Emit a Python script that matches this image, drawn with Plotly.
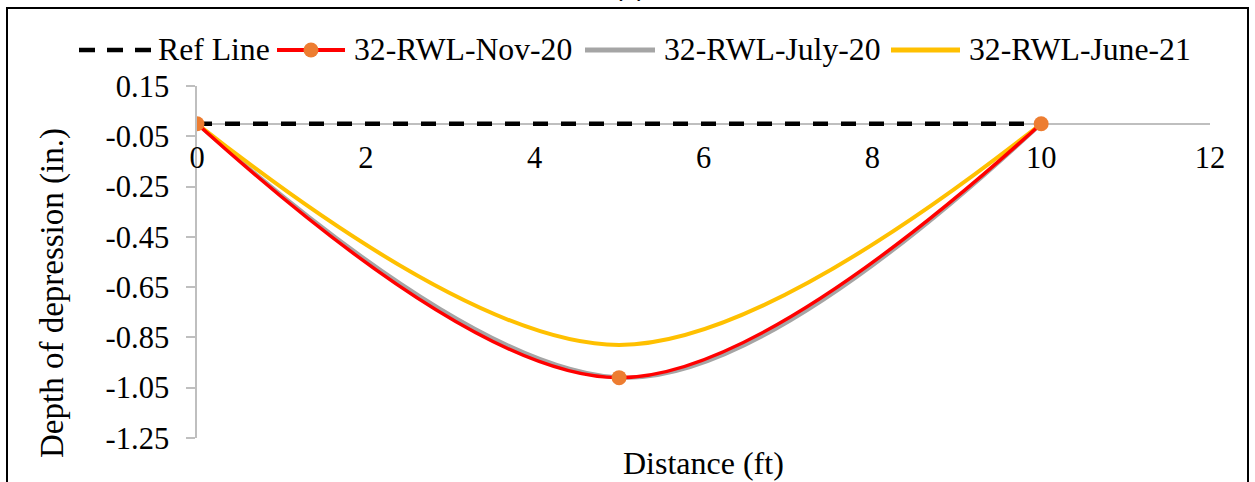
import plotly.graph_objects as go

# ---------------- data ----------------
ref_x = [0, 10]
ref_y = [0, 0]

nov20_x = [0, 5, 10]
nov20_y = [0, -1.01, 0]

july20_x = [0, 5.12, 10]
july20_y = [0, -1.01, 0]

june21_x = [0, 5, 10]
june21_y = [0, -0.88, 0]

x_ticks = [0, 2, 4, 6, 8, 10, 12]
y_ticks = [0.15, -0.05, -0.25, -0.45, -0.65, -0.85, -1.05, -1.25]
y_tick_labels = ["0.15", "-0.05", "-0.25", "-0.45", "-0.65", "-0.85", "-1.05", "-1.25"]

names = ["Ref Line", "32-RWL-Nov-20", "32-RWL-July-20", "32-RWL-June-21"]

# ---------------- layout constants ----------------
W, H = 1255, 482
L, R, T, B = 197, 45, 86, 44
PW = W - L - R
PH = H - T - B
FONT = "Liberation Serif"
FS_TICK = 30.5
FS_LEG = 31.7
FS_XT = 32
FS_YT = 33

RED = "#FF0000"
ORANGE = "#ED7D31"
GRAY = "#A5A5A5"
GOLD = "#FFC000"
AXIS = "#BFBFBF"

y_min, y_max = -1.25, 0.15


def px(p):
    return (p - L) / PW


def py(p):
    return (H - B - p) / PH


fig = go.Figure()

fig.add_trace(go.Scatter(x=ref_x, y=ref_y, mode="lines", name=names[0],
                         line=dict(color="black", width=4.5, dash="15px,13px"),
                         showlegend=False))
fig.add_trace(go.Scatter(x=july20_x, y=july20_y, mode="lines", name=names[2],
                         line=dict(color=GRAY, width=4, shape="spline", smoothing=1),
                         showlegend=False))
fig.add_trace(go.Scatter(x=june21_x, y=june21_y, mode="lines", name=names[3],
                         line=dict(color=GOLD, width=4, shape="spline", smoothing=1),
                         showlegend=False))
fig.add_trace(go.Scatter(x=nov20_x, y=nov20_y, mode="lines+markers", name=names[1],
                         line=dict(color=RED, width=3.5, shape="spline", smoothing=1),
                         marker=dict(color=ORANGE, size=15),
                         showlegend=False))

shapes = []
annotations = []

# outer frame
shapes.append(dict(type="rect", xref="paper", yref="paper",
                   x0=px(7), x1=px(1248), y0=py(500), y1=py(8),
                   line=dict(color="black", width=2), fillcolor="rgba(0,0,0,0)"))

# custom legend
leg_y = py(50)
legend_items = [
    (names[0], 79, 151, dict(color="black", width=4.5, dash="16px,12px"), None, 156),
    (names[1], 277, 345, dict(color=RED, width=4), ORANGE, 352),
    (names[2], 585, 655, dict(color=GRAY, width=5), None, 662),
    (names[3], 891, 960, dict(color=GOLD, width=5), None, 967),
]
for name, x0, x1, ln, mk, tx in legend_items:
    shapes.append(dict(type="line", xref="paper", yref="paper",
                       x0=px(x0), x1=px(x1), y0=leg_y, y1=leg_y, line=ln))
    if mk:
        c = px((x0 + x1) / 2)
        shapes.append(dict(type="circle", xref="paper", yref="paper",
                           xsizemode="pixel", ysizemode="pixel",
                           xanchor=c, yanchor=leg_y,
                           x0=-7.5, x1=7.5, y0=-7.5, y1=7.5,
                           fillcolor=mk, line=dict(color=mk, width=0)))
    annotations.append(dict(text=name, xref="paper", yref="paper",
                            x=px(tx), y=leg_y, xanchor="left", yanchor="middle",
                            showarrow=False, font=dict(family=FONT, size=FS_LEG, color="black")))

# axis titles
annotations.append(dict(text="Distance (ft)", xref="paper", yref="paper",
                        x=px(703), y=py(463), xanchor="center", yanchor="middle",
                        showarrow=False, font=dict(family=FONT, size=FS_XT, color="black")))
annotations.append(dict(text="Depth of depression (in.)", xref="paper", yref="paper",
                        x=px(52), y=py(293), xanchor="center", yanchor="middle",
                        textangle=-90, showarrow=False,
                        font=dict(family=FONT, size=FS_YT, color="black")))
# cut-off panel label
annotations.append(dict(text="(a)", xref="paper", yref="paper",
                        x=px(630), y=py(4), xanchor="center", yanchor="bottom",
                        showarrow=False, font=dict(family="Liberation Sans", size=26, color="black")))

fig.update_layout(
    width=W, height=H,
    margin=dict(l=L, r=R, t=T, b=B, pad=0),
    paper_bgcolor="white", plot_bgcolor="white",
    showlegend=False,
    shapes=shapes, annotations=annotations,
    font=dict(family=FONT, size=FS_TICK, color="black"),
    xaxis=dict(range=[0, 12], tickvals=x_ticks, ticktext=[str(v) for v in x_ticks],
               showgrid=False, zeroline=False, showline=True, linecolor=AXIS, linewidth=2,
               ticks="", anchor="free", position=(0 - y_min) / (y_max - y_min),
               layer="below traces",
               tickfont=dict(family=FONT, size=FS_TICK, color="black"),
               ticklabelstandoff=7),
    yaxis=dict(range=[y_min, y_max], tickvals=y_ticks, ticktext=y_tick_labels,
               showgrid=False, zeroline=False, showline=True, linecolor=AXIS, linewidth=1.5,
               ticks="outside", ticklen=9, tickcolor=AXIS, tickwidth=1.5,
               layer="below traces",
               tickfont=dict(family=FONT, size=FS_TICK, color="black"),
               ticklabelstandoff=11),
)

fig.write_html("out.html")
